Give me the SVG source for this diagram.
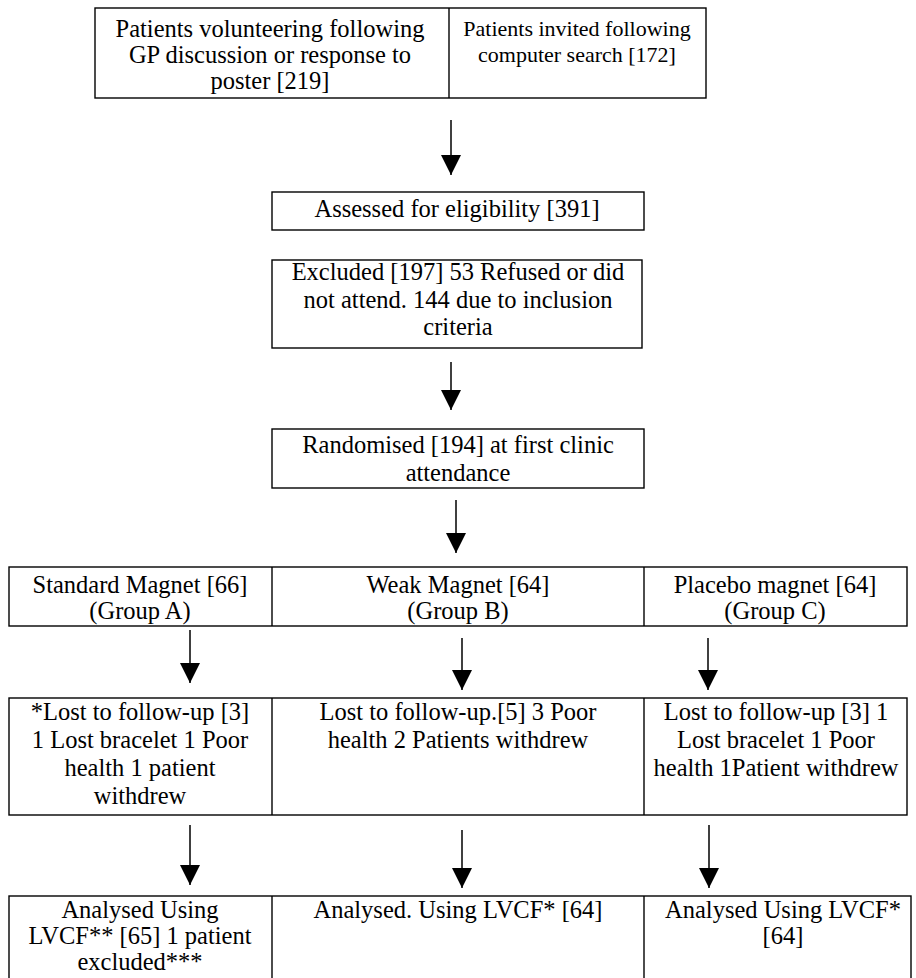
<svg xmlns="http://www.w3.org/2000/svg" width="916" height="978" viewBox="0 0 916 978">
<style>
.box{fill:#fff;stroke:#000;stroke-width:1.4}
.div{stroke:#000;stroke-width:1.4}
text{font-family:"Liberation Serif","Times New Roman",serif;font-size:24.5px;fill:#000;text-anchor:middle}
text.sm{font-size:22px}
.con line{stroke:#000;stroke-width:1.5}
</style>
<defs>
<marker id="ah" viewBox="0 0 20 20" refX="20" refY="10" markerWidth="20" markerHeight="20" markerUnits="userSpaceOnUse" orient="auto">
<path d="M0,0 L20,10 L0,20 z" fill="#000"/>
</marker>
</defs>
<rect width="916" height="978" fill="#fff"/>

<g id="sources">
<rect class="box" x="95" y="8" width="611" height="90"/>
<line class="div" x1="449" y1="8" x2="449" y2="98"/>
<text x="270" y="37">Patients volunteering following</text>
<text x="270" y="63">GP discussion or response to</text>
<text x="270" y="89">poster [219]</text>
<text class="sm" x="577" y="36">Patients invited following</text>
<text class="sm" x="577" y="62">computer search [172]</text>
</g>

<g id="assessed">
<rect class="box" x="272" y="192" width="372" height="38"/>
<text x="457" y="217">Assessed for eligibility [391]</text>
</g>

<g id="excluded">
<rect class="box" x="272" y="260" width="370" height="88"/>
<text x="458" y="280">Excluded [197] 53 Refused or did</text>
<text x="458" y="308">not attend. 144 due to inclusion</text>
<text x="458" y="335">criteria</text>
</g>

<g id="randomised">
<rect class="box" x="272" y="429" width="372" height="59"/>
<text x="458" y="453">Randomised [194] at first clinic</text>
<text x="458" y="481">attendance</text>
</g>

<g id="groups">
<rect class="box" x="9" y="567" width="898" height="59"/>
<line class="div" x1="272" y1="567" x2="272" y2="626"/>
<line class="div" x1="644" y1="567" x2="644" y2="626"/>
<text x="140" y="593">Standard Magnet [66]</text>
<text x="140" y="619">(Group A)</text>
<text x="458" y="593">Weak Magnet [64]</text>
<text x="458" y="619">(Group B)</text>
<text x="775" y="593">Placebo magnet [64]</text>
<text x="775" y="619">(Group C)</text>
</g>

<g id="lost">
<rect class="box" x="9" y="698" width="898" height="117"/>
<line class="div" x1="272" y1="698" x2="272" y2="815"/>
<line class="div" x1="644" y1="698" x2="644" y2="815"/>
<text x="140" y="720">*Lost to follow-up [3]</text>
<text x="140" y="748">1 Lost bracelet 1 Poor</text>
<text x="140" y="776">health 1 patient</text>
<text x="140" y="804">withdrew</text>
<text x="458" y="720">Lost to follow-up.[5] 3 Poor</text>
<text x="458" y="748">health 2 Patients withdrew</text>
<text x="776" y="720">Lost to follow-up [3] 1</text>
<text x="776" y="748">Lost bracelet 1 Poor</text>
<text x="776" y="776">health 1Patient withdrew</text>
</g>

<g id="analysed">
<rect class="box" x="9" y="896" width="902" height="100"/>
<line class="div" x1="272" y1="896" x2="272" y2="978"/>
<line class="div" x1="644" y1="896" x2="644" y2="978"/>
<text x="140" y="918">Analysed Using</text>
<text x="140" y="944">LVCF** [65] 1 patient</text>
<text x="140" y="970">excluded***</text>
<text x="458" y="918">Analysed. Using LVCF* [64]</text>
<text x="783" y="918">Analysed Using LVCF*</text>
<text x="783" y="944">[64]</text>
</g>

<g id="connectors" class="con">
<line x1="451" y1="120" x2="451" y2="175" marker-end="url(#ah)"/>
<line x1="451" y1="362" x2="451" y2="410" marker-end="url(#ah)"/>
<line x1="456" y1="500" x2="456" y2="553" marker-end="url(#ah)"/>
<line x1="190" y1="630" x2="190" y2="683" marker-end="url(#ah)"/>
<line x1="462" y1="638" x2="462" y2="690" marker-end="url(#ah)"/>
<line x1="708" y1="638" x2="708" y2="690" marker-end="url(#ah)"/>
<line x1="190" y1="825" x2="190" y2="885" marker-end="url(#ah)"/>
<line x1="462" y1="830" x2="462" y2="888" marker-end="url(#ah)"/>
<line x1="709" y1="825" x2="709" y2="888" marker-end="url(#ah)"/>
</g>
</svg>
